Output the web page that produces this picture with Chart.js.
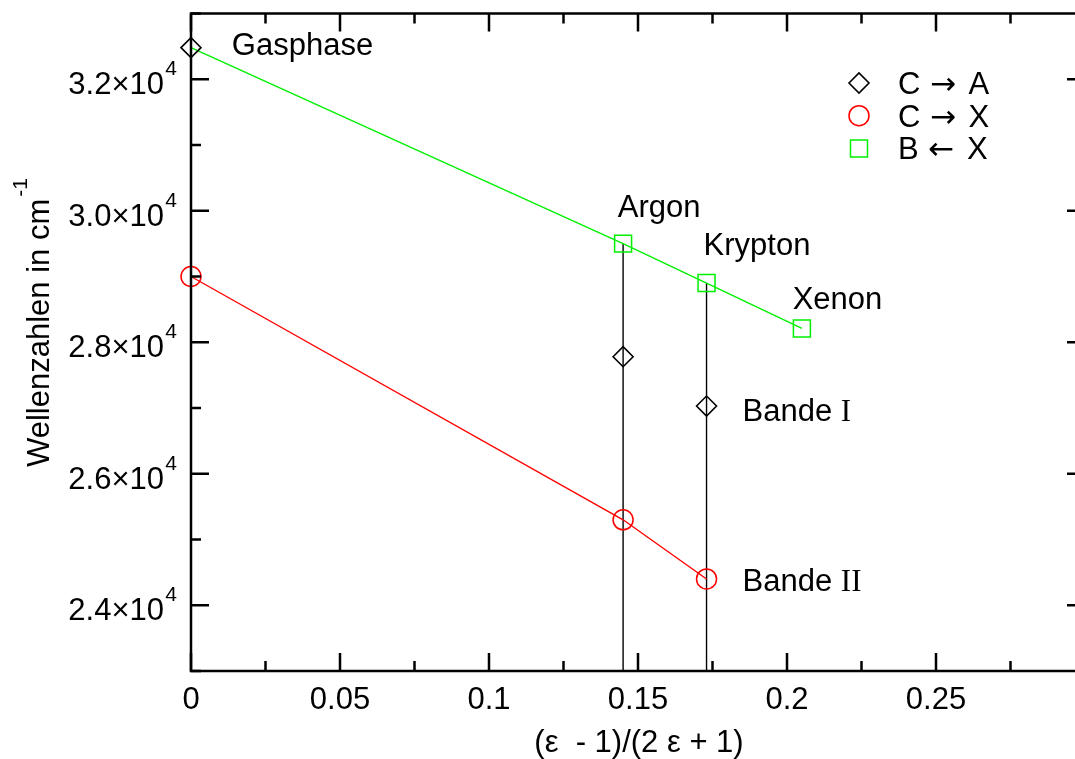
<!DOCTYPE html>
<html>
<head>
<meta charset="utf-8">
<script src="https://cdn.jsdelivr.net/npm/chart.js@4/dist/chart.umd.min.js"></script>
<style>
  html, body { margin: 0; padding: 0; background: #fff; overflow: hidden; }
  #wrap { position: relative; width: 1100px; height: 759px; }
</style>
</head>
<body>
<div id="wrap"><canvas id="plot" width="1100" height="759"></canvas></div>
<script>
// Solvatochromie: Bandenlage gegen Polaritaetsfunktion (eps-1)/(2eps+1)
const epsAll = [0, 0.145, 0.173, 0.205];      // Gasphase, Argon, Krypton, Xenon
const epsCA = [0, 0.145, 0.173];
const epsCX = [0, 0.145, 0.173];
const valCA = [32480, 27780, 27030];          // C -> A
const valCX = [29000, 25300, 24400];          // C -> X
const valBX = [32480, 29500, 28900, 28210];   // B <- X
const dropX = [0.145, 0.173];                 // Matrix-Markierungen
const dropTop = [29500, 28900];

const xMajor = [0, 0.05, 0.1, 0.15, 0.2, 0.25, 0.3];
const xMinor = [0.025, 0.075, 0.125, 0.175, 0.225, 0.275];
const xTickLabels = ['0', '0.05', '0.1', '0.15', '0.2', '0.25', ''];
const yMajor = [24000, 26000, 28000, 30000, 32000];
const yMinor = [23000, 25000, 27000, 29000, 31000, 33000];
const yTickLabels = ['2.4', '2.6', '2.8', '3.0', '3.2'];

// Legende: [obere Zustand, Pfeil, untere Zustand]
const legendLabels = [['C', '\u2192', 'A'], ['C', '\u2192', 'X'], ['B', '\u2190', 'X']];
const noteText = ['Gasphase', 'Argon', 'Krypton', 'Xenon'];
const noteX = [0.0137, 0.1432, 0.1720, 0.2019];
const noteY = [32370, 29900, 29320, 28500];
const bandText = ['I', 'II'];
const bandX = [0.1851, 0.1851];
const bandY = [26800, 24220];

const SANS = '"Liberation Sans", Arial, Helvetica, sans-serif';
const SERIF = '"Liberation Serif", "Times New Roman", serif';
const ARROWS = '"DejaVu Sans", sans-serif';
const GREEN = '#00f000';
const RED = '#ff0000';

const pts = (xs, ys) => xs.map((x, i) => ({ x: x, y: ys[i] }));

const datasets = [
  {
    label: legendLabels[0].join(' '),
    data: pts(epsCA, valCA),
    showLine: false,
    pointStyle: 'rectRot',
    pointRadius: 10,
    borderColor: '#000',
    backgroundColor: 'rgba(0,0,0,0)',
    pointBorderWidth: 1.6,
    clip: false
  },
  {
    label: legendLabels[1].join(' '),
    data: pts(epsCX, valCX),
    showLine: true,
    pointStyle: 'circle',
    pointRadius: 10,
    borderColor: RED,
    backgroundColor: 'rgba(0,0,0,0)',
    borderWidth: 1.4,
    pointBorderWidth: 1.5,
    clip: false
  },
  {
    label: legendLabels[2].join(' '),
    data: pts(epsAll, valBX),
    showLine: true,
    pointStyle: 'rect',
    pointRadius: [0, 12, 12, 12],
    borderColor: GREEN,
    backgroundColor: 'rgba(0,0,0,0)',
    borderWidth: 1.4,
    pointBorderWidth: 1.5,
    clip: false
  }
];
dropX.forEach((x, i) => {
  datasets.push({
    label: '',
    data: [{ x: x, y: dropTop[i] }, { x: x, y: 23000 }],
    showLine: true,
    pointRadius: 0,
    borderColor: '#000',
    borderWidth: 1.4
  });
});

// Rahmen, Ticks, Beschriftungen und Legende
const frame = {
  id: 'frame',
  afterDraw(chart) {
    const ctx = chart.ctx;
    const a = chart.chartArea;
    const xs = chart.scales.x, ys = chart.scales.y;
    ctx.save();
    ctx.strokeStyle = '#000';
    ctx.lineWidth = 2.5;
    ctx.strokeRect(a.left, a.top, a.right - a.left, a.bottom - a.top);

    ctx.beginPath();
    const tick = (x1, y1, x2, y2) => { ctx.moveTo(x1, y1); ctx.lineTo(x2, y2); };
    xMajor.forEach(v => {
      const px = xs.getPixelForValue(v);
      tick(px, a.bottom, px, a.bottom - 18);
      tick(px, a.top, px, a.top + 18);
    });
    xMinor.forEach(v => {
      const px = xs.getPixelForValue(v);
      tick(px, a.bottom, px, a.bottom - 10);
      tick(px, a.top, px, a.top + 10);
    });
    yMajor.forEach(v => {
      const py = ys.getPixelForValue(v);
      tick(a.left, py, a.left + 18, py);
      tick(a.right, py, a.right - 18, py);
    });
    yMinor.forEach(v => {
      const py = ys.getPixelForValue(v);
      tick(a.left, py, a.left + 10, py);
      tick(a.right, py, a.right - 10, py);
    });
    ctx.stroke();

    ctx.fillStyle = '#000';
    ctx.textBaseline = 'alphabetic';

    // x tick labels
    ctx.font = '31px ' + SANS;
    ctx.textAlign = 'center';
    xMajor.forEach((v, i) => {
      ctx.fillText(xTickLabels[i], xs.getPixelForValue(v), 709);
    });

    // y tick labels as mantissa x 10^4
    yMajor.forEach((v, i) => {
      const py = ys.getPixelForValue(v);
      ctx.textAlign = 'right';
      ctx.font = '31px ' + SANS;
      ctx.fillText(yTickLabels[i] + '\u00d710', 164, py + 15);
      ctx.font = '21px ' + SANS;
      ctx.fillText('4', 177, py - 4);
    });

    // axis titles
    ctx.font = '31px ' + SANS;
    ctx.textAlign = 'center';
    ctx.fillText('(\u03b5  - 1)/(2 \u03b5 + 1)', 639, 752);

    ctx.save();
    ctx.translate(49, 467);
    ctx.rotate(-Math.PI / 2);
    ctx.textAlign = 'left';
    const yTitle = 'Wellenzahlen in cm';
    ctx.fillText(yTitle, 0, 0);
    const w = ctx.measureText(yTitle).width;
    ctx.font = '21px ' + SANS;
    ctx.fillText('-1', w + 2, -22);
    ctx.restore();

    // Matrix-Bezeichnungen
    ctx.font = '31px ' + SANS;
    ctx.textAlign = 'left';
    noteText.forEach((t, i) => {
      ctx.fillText(t, xs.getPixelForValue(noteX[i]), ys.getPixelForValue(noteY[i]));
    });
    bandText.forEach((t, i) => {
      const px = xs.getPixelForValue(bandX[i]);
      const py = ys.getPixelForValue(bandY[i]);
      ctx.font = '31px ' + SANS;
      ctx.fillText('Bande ', px, py);
      const bw = ctx.measureText('Bande ').width;
      ctx.font = '31px ' + SERIF;
      ctx.fillText(t, px + bw, py);
    });

    // Legende
    for (let i = 0; i < 3; i++) {
      const ds = chart.data.datasets[i];
      const cy = 83 + i * 32.7;
      const r = Array.isArray(ds.pointRadius) ? ds.pointRadius[1] : ds.pointRadius;
      ctx.strokeStyle = ds.borderColor;
      ctx.fillStyle = 'rgba(0,0,0,0)';
      ctx.lineWidth = ds.pointBorderWidth;
      Chart.helpers.drawPoint(ctx, { pointStyle: ds.pointStyle, radius: r, borderWidth: ds.pointBorderWidth, rotation: 0 }, 859, cy);

      const [from, arrow, to] = legendLabels[i];
      const by = 94 + i * 32.7;
      let tx = 898;
      ctx.fillStyle = '#000';
      ctx.textAlign = 'left';
      ctx.font = '31px ' + SANS;
      ctx.fillText(from + ' ', tx, by);
      tx += ctx.measureText(from + ' ').width + 1;
      ctx.font = '31px ' + ARROWS;
      ctx.fillText(arrow, tx, by);
      tx += ctx.measureText(arrow).width + 4;
      ctx.font = '31px ' + SANS;
      ctx.fillText(' ' + to, tx, by);
    }
    ctx.restore();
  }
};

new Chart(document.getElementById('plot'), {
  type: 'scatter',
  data: { datasets: datasets },
  options: {
    responsive: false,
    animation: false,
    layout: { padding: { left: 191, top: 13, right: 15, bottom: 88 } },
    plugins: { legend: { display: false }, tooltip: { enabled: false } },
    elements: { line: { tension: 0 } },
    scales: {
      x: { type: 'linear', min: 0, max: 0.3, display: false },
      y: { type: 'linear', min: 23000, max: 33000, display: false }
    }
  },
  plugins: [frame]
});
</script>
</body>
</html>
